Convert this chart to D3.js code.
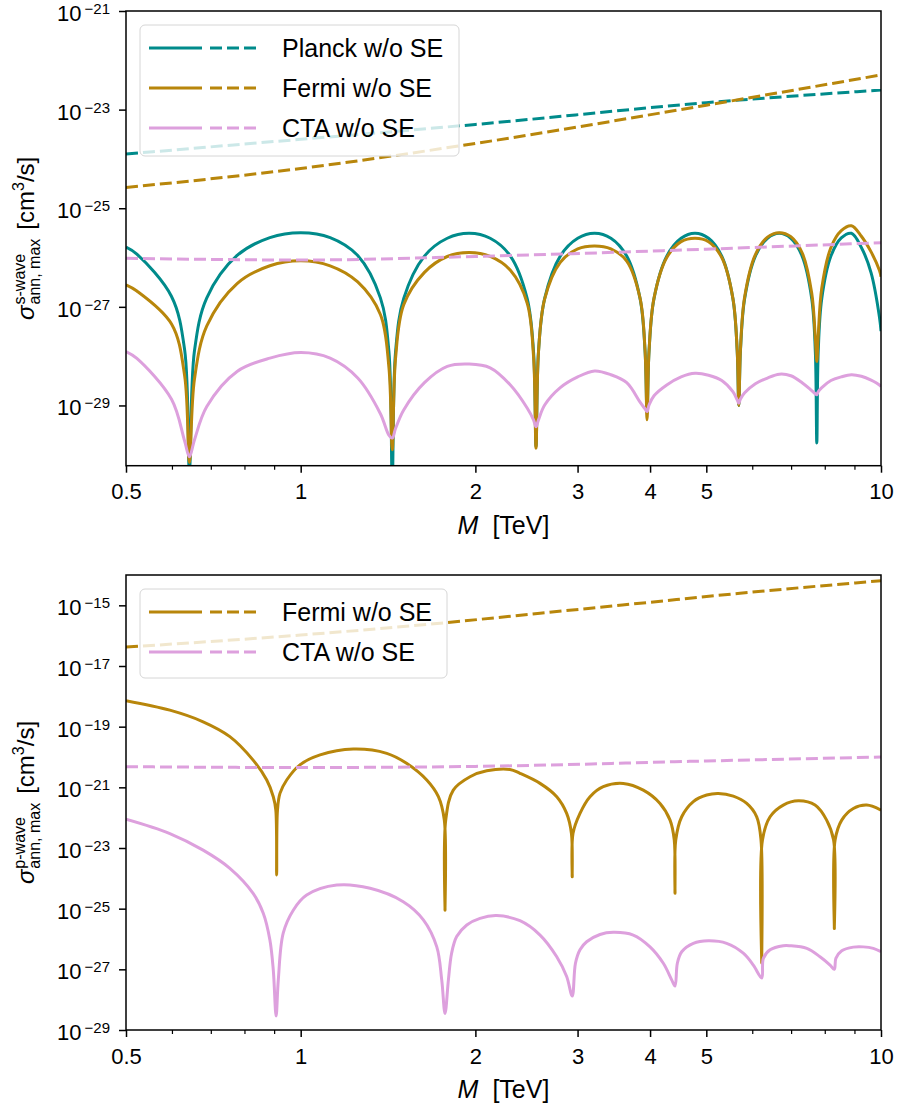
<!DOCTYPE html>
<html>
<head>
<meta charset="utf-8">
<script src="https://cdn.jsdelivr.net/npm/d3@7"></script>
<style>
  body { margin: 0; background: #fff; }
  svg { display: block; }
</style>
</head>
<body>
<svg id="fig" width="897" height="1111"></svg>
<script>
// ---------- s-wave: maximal annihilation cross section vs. mass ----------
const massS = [0.5,0.522,0.599,0.631,0.643,
  0.656,0.689,0.777,0.885,1.001,1.124,1.254,1.372,1.419,1.438,
  1.457,1.505,1.634,1.789,1.952,2.121,2.298,2.456,2.519,2.544,
  2.569,2.633,2.801,3.002,3.210,3.424,3.646,3.844,3.921,3.952,
  3.984,4.063,4.274,4.524,4.781,5.045,5.316,5.556,5.651,5.688,
  5.726,5.822,6.075,6.374,6.680,6.993,7.313,7.596,7.706,7.751,
  7.795,7.906,8.198,8.542,8.892,9.250,9.615,9.937,10.0];

const planckS = [1.62e-26,1.17e-26,1.62e-27,1.34e-28,5e-31,
  1.27e-28,1.52e-27,1.10e-26,2.54e-26,3.2e-26,2.54e-26,1.10e-26,1.52e-27,1.26e-28,3e-31,
  1.22e-28,1.48e-27,1.07e-26,2.46e-26,3.1e-26,2.46e-26,1.07e-26,1.48e-27,1.24e-28,1.48e-30,
  1.24e-28,1.48e-27,1.07e-26,2.46e-26,3.1e-26,2.46e-26,1.07e-26,1.48e-27,1.29e-28,6.9e-30,
  1.29e-28,1.48e-27,1.07e-26,2.46e-26,3.1e-26,2.46e-26,1.07e-26,1.48e-27,1.32e-28,1.0e-29,
  1.32e-28,1.48e-27,1.07e-26,2.46e-26,3.1e-26,2.46e-26,1.07e-26,1.48e-27,1.24e-28,1.74e-30,
  1.24e-28,1.48e-27,1.07e-26,2.5e-26,3.1e-26,1.6e-26,4.9e-27,6.3e-28,3.2e-28];

const fermiS = [2.8e-27,2.1e-27,4.5e-28,4e-29,7e-31,
  3.4e-29,4.1e-28,2.97e-27,6.8e-27,8.6e-27,6.8e-27,3.2e-27,7e-28,6e-29,1.26e-30,
  9e-29,1.1e-27,5.0e-27,1.05e-26,1.26e-26,1.05e-26,5.5e-27,1.2e-27,1.0e-28,1.36e-30,
  1.2e-28,1.45e-27,8e-27,1.5e-26,1.72e-26,1.5e-26,8.5e-27,1.5e-27,1.3e-28,5.1e-30,
  1.3e-28,1.5e-27,1.0e-26,2.1e-26,2.47e-26,2.1e-26,1.0e-26,1.5e-27,1.35e-28,1.0e-29,
  1.4e-28,1.6e-27,1.15e-26,2.6e-26,3.2e-26,2.65e-26,1.25e-26,1.9e-27,2.3e-28,7.8e-29,
  2.6e-28,2.4e-27,1.6e-26,3.5e-26,4.4e-26,2.7e-26,1.3e-26,5.5e-27,4.1e-27];

const ctaS = [1.24e-28,9.0e-29,1.33e-29,1.9e-30,9.1e-31,
  2.0e-30,9.5e-30,4.9e-29,9.1e-29,1.18e-28,9.1e-29,3.6e-29,6.8e-30,2.5e-30,2.18e-30,
  3.4e-30,8.1e-30,2.9e-29,6.2e-29,6.9e-29,5.8e-29,2.6e-29,8.9e-30,5.1e-30,3.7e-30,
  5.1e-30,1.02e-29,2.3e-29,3.8e-29,5.0e-29,4.2e-29,2.9e-29,1.17e-29,8.5e-30,7.5e-30,
  1.02e-29,1.57e-29,2.6e-29,3.8e-29,4.5e-29,4.1e-29,3.2e-29,1.9e-29,1.3e-29,1.11e-29,
  1.35e-29,1.8e-29,2.75e-29,3.6e-29,4.3e-29,4.0e-29,2.9e-29,2.0e-29,1.73e-29,1.64e-29,
  1.9e-29,2.3e-29,3.2e-29,3.8e-29,4.2e-29,3.9e-29,3.25e-29,2.6e-29,2.4e-29];

// observational limits (dashed), s-wave
const massLimS = [0.5, 1, 2, 5, 10];
const planckLimS = [1.26e-24, 2.5e-24, 5.0e-24, 1.38e-23, 2.5e-23];
const fermiLimS = [2.63e-25, 6.4e-25, 2.06e-24, 1.23e-23, 5.05e-23];
const ctaLimS = [9.7e-27, 8.9e-27, 1.05e-26, 1.48e-26, 2.0e-26];

// ---------- p-wave ----------
const massFermiP = [0.5,0.595,0.679,0.755,0.828,0.874,0.897,0.906,0.909,0.912,
  0.921,0.946,0.997,1.080,1.232,1.407,1.522,1.649,1.727,1.768,
  1.773,1.778,1.832,1.958,2.092,2.294,2.387,2.585,2.762,2.873,
  2.928,2.937,2.946,3.029,3.152,3.322,3.597,3.894,4.161,4.330,
  4.403,4.416,4.429,4.535,4.749,5.008,5.244,5.565,5.870,6.107,
  6.212,6.230,6.248,6.440,6.786,7.205,7.697,8.060,8.285,8.310,
  8.335,8.557,8.960,9.450,10.0];
const fermiP = [7.2e-19,3.5e-19,1.45e-19,4.7e-20,7.9e-21,1.74e-21,4.9e-22,1.78e-22,1.29e-24,1.78e-22,
  6.3e-22,1.74e-21,5.5e-21,1.17e-20,1.82e-20,1.32e-20,6.2e-21,1.74e-21,4.9e-22,8.3e-23,
  8.9e-26,8.3e-23,8.1e-22,2.24e-21,3.5e-21,3.9e-21,2.9e-21,1.35e-21,4.9e-22,1.38e-22,
  3.0e-23,1.12e-24,3.0e-23,1.38e-22,4.9e-22,1.05e-21,1.35e-21,8.1e-22,2.95e-22,8.3e-23,
  1.82e-23,3.2e-25,1.82e-23,1.07e-22,3.4e-22,5.6e-22,6.3e-22,5.1e-22,2.95e-22,1.07e-22,
  1.82e-23,1.58e-27,1.82e-23,1.07e-22,2.6e-22,3.6e-22,2.6e-22,8.3e-23,1.82e-23,2.2e-26,
  1.82e-23,8.3e-23,2.0e-22,2.6e-22,1.78e-22];

const massCtaP = [0.5,0.595,0.679,0.755,0.828,0.862,0.885,0.897,0.907,0.915,
  0.933,0.971,1.024,1.154,1.317,1.502,1.627,1.716,1.750,1.773,
  1.797,1.820,1.857,1.933,2.037,2.176,2.387,2.585,2.762,2.873,
  2.937,2.975,3.029,3.110,3.279,3.457,3.742,3.999,4.216,4.358,
  4.416,4.457,4.535,4.749,5.040,5.420,5.790,6.025,6.230,6.270,
  6.440,6.786,6.970,7.450,7.850,8.170,8.310,8.360,8.557,8.960,
  9.320,9.700,10.0];
const ctaP = [8.9e-23,3.0e-23,8.5e-24,2.14e-24,3.2e-25,7.1e-26,9.3e-27,9.5e-28,2.9e-29,4.5e-28,
  1.55e-26,8.9e-26,2.8e-25,6.0e-25,4.7e-25,1.7e-25,4.3e-26,5.5e-27,4.5e-28,3.5e-29,
  4.5e-28,3.4e-27,1.2e-26,2.9e-26,4.8e-26,5.9e-26,4.0e-26,1.35e-26,2.6e-27,5.8e-28,
  1.32e-28,1.58e-27,4.4e-27,8.1e-27,1.41e-26,1.66e-26,1.35e-26,5.5e-27,1.58e-27,4.5e-28,
  2.8e-28,1.58e-27,3.8e-27,7.2e-27,8.7e-27,7.2e-27,3.4e-27,1.38e-27,5.2e-28,2.3e-27,
  4.4e-27,6.0e-27,6.0e-27,4.9e-27,2.6e-27,1.38e-27,1.0e-27,2.3e-27,4.1e-27,5.4e-27,
  5.5e-27,4.9e-27,3.8e-27];

// observational limits (dashed), p-wave
const massLimFermiP = [0.5, 1, 1.785, 2.585, 3.845, 5.715, 10];
const fermiLimP = [4.2e-17, 1.05e-16, 2.7e-16, 5.5e-16, 1.17e-15, 2.5e-15, 6.5e-15];
const massLimCtaP = [0.5, 1, 2, 5, 10];
const ctaLimP = [4.8e-21, 4.5e-21, 4.9e-21, 7.4e-21, 1.0e-20];

// ---------- axes ----------
const xMajor = [0.5, 1, 2, 3, 4, 5, 10];
const xMajorLabels = ["0.5", "1", "2", "3", "4", "5", "10"];
const xMinor = [0.6, 0.7, 0.8, 0.9, 6, 7, 8, 9];
const yExpS = [-29, -27, -25, -23, -21];
const yExpP = [-29, -27, -25, -23, -21, -19, -17, -15];

const C_PLANCK = "#008b8b", C_FERMI = "#b8860b", C_CTA = "#dda0dd";
const FONT = '"Liberation Sans", Arial, sans-serif';
const LEFT = 126, RIGHT = 881, LW = 3, DASH = "12,5";

const svg = d3.select("#fig").attr("font-family", FONT);
const defs = svg.append("defs");

function drawPanel(p) {
  const x = d3.scaleLog().domain([0.5, 10]).range([LEFT, RIGHT]);
  const y = d3.scaleLog().domain(p.yDomain).range([p.y1, p.y0]);
  const root = svg.append("g");

  defs.append("clipPath").attr("id", p.id)
    .append("rect").attr("x", LEFT).attr("y", p.y0)
    .attr("width", RIGHT - LEFT).attr("height", p.y1 - p.y0);

  const plot = root.append("g").attr("clip-path", `url(#${p.id})`);
  const solid = d3.line().x(d => x(d[0])).y(d => y(d[1])).curve(d3.curveCatmullRom.alpha(0.5));
  const dashed = d3.line().x(d => x(d[0])).y(d => y(d[1])).curve(d3.curveMonotoneX);
  p.series.forEach(s => {
    plot.append("path")
      .datum(d3.zip(s.m, s.v))
      .attr("d", s.dash ? dashed : solid)
      .attr("fill", "none")
      .attr("stroke", s.color)
      .attr("stroke-width", LW)
      .attr("stroke-linejoin", "round")
      .attr("stroke-dasharray", s.dash ? DASH : null);
  });

  // x ticks
  const gx = root.append("g").attr("transform", `translate(0,${p.y1})`)
    .call(d3.axisBottom(x).tickValues(xMajor).tickFormat((d, i) => xMajorLabels[i])
      .tickSize(7).tickPadding(11));
  gx.select(".domain").remove();
  gx.selectAll("line").attr("stroke", "#000").attr("stroke-width", 1.5);
  gx.selectAll("text").attr("font-size", 22).attr("font-family", FONT).attr("fill", "#000");
  const gxm = root.append("g").attr("transform", `translate(0,${p.y1})`)
    .call(d3.axisBottom(x).tickValues(xMinor).tickFormat("").tickSize(4));
  gxm.select(".domain").remove();
  gxm.selectAll("line").attr("stroke", "#000").attr("stroke-width", 1.2);

  // y ticks: 10^n labels
  const gy = root.append("g").attr("transform", `translate(${LEFT},0)`)
    .call(d3.axisLeft(y).tickValues(p.yExp.map(e => Math.pow(10, e))).tickFormat("").tickSize(7));
  gy.select(".domain").remove();
  gy.selectAll("line").attr("stroke", "#000").attr("stroke-width", 1.5);
  p.yExp.forEach(e => {
    const ty = y(Math.pow(10, e));
    const t = root.append("text").attr("x", LEFT - 16).attr("y", ty + 10)
      .attr("text-anchor", "end").attr("font-size", 22).attr("fill", "#000");
    t.append("tspan").text("10");
    t.append("tspan").attr("font-size", 15).attr("dx", 3).attr("dy", -7).text("\u2212" + Math.abs(e));
  });

  // frame
  root.append("rect").attr("x", LEFT).attr("y", p.y0)
    .attr("width", RIGHT - LEFT).attr("height", p.y1 - p.y0)
    .attr("fill", "none").attr("stroke", "#000").attr("stroke-width", 1.5);

  // x label
  const xl = root.append("text").attr("x", (LEFT + RIGHT) / 2).attr("y", p.y1 + 68)
    .attr("text-anchor", "middle").attr("font-size", 25).attr("fill", "#000");
  xl.append("tspan").attr("font-style", "italic").text("M");
  xl.append("tspan").attr("dx", 14).text("[TeV]");

  // y label
  yLabel(34, (p.y0 + p.y1) / 2, p.wave);

  // legend
  const lg = root.append("g");
  lg.append("rect").attr("x", p.legend.x).attr("y", p.legend.y)
    .attr("width", p.legend.w).attr("height", p.legend.h)
    .attr("rx", 5).attr("ry", 5)
    .attr("fill", "#fff").attr("fill-opacity", 0.8)
    .attr("stroke", "#d6d6d6").attr("stroke-width", 1);
  p.legend.items.forEach((it, i) => {
    const cy = p.legend.y + 23 + i * 40;
    lg.append("line").attr("x1", 149).attr("x2", 202).attr("y1", cy).attr("y2", cy)
      .attr("stroke", it.color).attr("stroke-width", LW);
    lg.append("line").attr("x1", 210).attr("x2", 258).attr("y1", cy).attr("y2", cy)
      .attr("stroke", it.color).attr("stroke-width", LW).attr("stroke-dasharray", DASH);
    lg.append("text").attr("x", 282).attr("y", cy + 9).attr("font-size", 25)
      .attr("fill", "#000").text(it.label);
  });
}

function yLabel(cx, cy, wave) {
  const g = svg.append("g").attr("transform", `translate(${cx},${cy}) rotate(-90)`)
    .attr("fill", "#000");
  const sig = g.append("text").attr("font-size", 24).attr("font-style", "italic").text("\u03c3");
  const ws = sig.node().getComputedTextLength();
  const tSup = g.append("text").attr("font-size", 16).attr("y", -9).text(wave);
  const tSub = g.append("text").attr("font-size", 16).attr("y", 6).text("ann, max");
  const wScript = Math.max(tSup.node().getComputedTextLength(), tSub.node().getComputedTextLength());
  const unit = g.append("text").attr("font-size", 24);
  unit.append("tspan").text("[cm");
  unit.append("tspan").attr("font-size", 16).attr("dy", -10).text("3");
  unit.append("tspan").attr("dy", 10).text("/s]");
  const wu = unit.node().getComputedTextLength();
  const gap = 9;
  const total = ws + 1 + wScript + gap + wu;
  const x0 = -total / 2;
  sig.attr("x", x0);
  tSup.attr("x", x0 + ws + 1);
  tSub.attr("x", x0 + ws + 1);
  unit.attr("x", x0 + ws + 1 + wScript + gap);
}

drawPanel({
  id: "clip-s", y0: 11, y1: 465.7, yDomain: [6e-31, 1e-21], yExp: yExpS, wave: "s-wave",
  series: [
    { m: massS, v: planckS, color: C_PLANCK },
    { m: massLimS, v: planckLimS, color: C_PLANCK, dash: true },
    { m: massS, v: fermiS, color: C_FERMI },
    { m: massLimS, v: fermiLimS, color: C_FERMI, dash: true },
    { m: massS, v: ctaS, color: C_CTA },
    { m: massLimS, v: ctaLimS, color: C_CTA, dash: true }
  ],
  legend: { x: 140, y: 25, w: 319, h: 131, items: [
    { label: "Planck w/o SE", color: C_PLANCK },
    { label: "Fermi w/o SE", color: C_FERMI },
    { label: "CTA w/o SE", color: C_CTA }
  ] }
});

drawPanel({
  id: "clip-p", y0: 575, y1: 1030, yDomain: [1e-29, 1e-14], yExp: yExpP, wave: "p-wave",
  series: [
    { m: massFermiP, v: fermiP, color: C_FERMI },
    { m: massLimFermiP, v: fermiLimP, color: C_FERMI, dash: true },
    { m: massCtaP, v: ctaP, color: C_CTA },
    { m: massLimCtaP, v: ctaLimP, color: C_CTA, dash: true }
  ],
  legend: { x: 140, y: 589, w: 307, h: 89, items: [
    { label: "Fermi w/o SE", color: C_FERMI },
    { label: "CTA w/o SE", color: C_CTA }
  ] }
});
</script>
</body>
</html>
